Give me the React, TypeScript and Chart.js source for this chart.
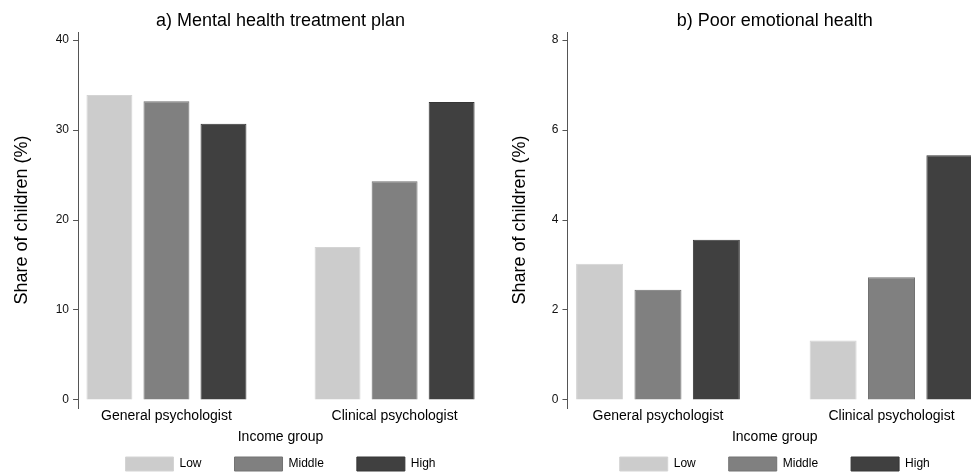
import React, { useEffect, useRef } from 'react';
import { Chart, registerables } from 'chart.js';

Chart.register(...registerables);

// ---- data ----
const categories = ['General psychologist', 'Clinical psychologist'];
const seriesNames = ['Low', 'Middle', 'High'];

const treatmentLow = [33.9, 17.0];
const treatmentMiddle = [33.2, 24.3];
const treatmentHigh = [30.7, 33.1];

const emotionalLow = [3.03, 1.32];
const emotionalMiddle = [2.45, 2.73];
const emotionalHigh = [3.56, 5.44];

const treatmentTicks = [0, 10, 20, 30, 40];
const emotionalTicks = [0, 2, 4, 6, 8];

const titleA = 'a) Mental health treatment plan';
const titleB = 'b) Poor emotional health';
const yTitle = 'Share of children (%)';
const xTitle = 'Income group';

// ---- styles ----
const fills = ['#cccccc', '#808080', '#404040'];
const borders = ['#d4d4d4', '#727272', '#363636'];
const FONT = "'Liberation Sans', Arial, Helvetica, sans-serif";

Chart.defaults.font.family = FONT;

const slots = seriesNames.length + 1;

function buildConfig(
  title: string,
  values: number[][],
  ticks: number[],
  yMin: number,
  yMax: number,
  padRight: number,
  yTitlePadBottom: number
): any {
  const datasets = seriesNames.map((name, s) => ({
    label: name,
    data: categories.map((_, g) => ({ x: g * slots + s, y: values[s][g] })),
    backgroundColor: fills[s],
    borderColor: borders[s],
    borderWidth: 1,
    grouped: false,
    barPercentage: 0.805,
    categoryPercentage: 1,
  }));
  const centers = categories.map((_, g) => g * slots + (seriesNames.length - 1) / 2);
  const xMin = -0.55;
  const xMax = (categories.length - 1) * slots + (seriesNames.length - 1) + 0.55;
  return {
    type: 'bar',
    data: { datasets },
    options: {
      responsive: false,
      animation: false,
      devicePixelRatio: 1,
      events: [],
      layout: { padding: { left: 0, right: padRight, top: 0, bottom: 0 } },
      plugins: {
        title: {
          display: true,
          text: title,
          fullSize: false,
          color: '#000',
          font: { size: 18, weight: 'normal', family: FONT, lineHeight: 1.2 },
          padding: { top: 10.5, bottom: 0 },
        },
        legend: {
          display: true,
          position: 'bottom',
          fullSize: false,
          labels: {
            boxWidth: 48,
            boxHeight: 14,
            padding: 33,
            color: '#000',
            font: { size: 12, family: FONT },
          },
        },
        tooltip: { enabled: false },
      },
      scales: {
        x: {
          type: 'linear',
          min: xMin,
          max: xMax,
          offset: false,
          grid: { display: false, drawTicks: false, tickLength: 0 },
          border: { display: false },
          afterBuildTicks: (scale: any) => {
            scale.ticks = centers.map((v) => ({ value: v }));
          },
          ticks: {
            autoSkip: false,
            maxRotation: 0,
            minRotation: 0,
            padding: 0,
            color: '#000',
            font: { size: 14, family: FONT },
            callback: (_v: any, i: number) => categories[i],
          },
          title: {
            display: true,
            text: xTitle,
            color: '#000',
            font: { size: 14, family: FONT },
            padding: { top: 4, bottom: -21.6 },
          },
        },
        y: {
          type: 'linear',
          min: yMin,
          max: yMax,
          grid: {
            display: true,
            drawOnChartArea: false,
            drawTicks: true,
            tickLength: 5,
            color: '#555555',
            lineWidth: 1,
          },
          border: { display: true, color: '#555555', width: 1 },
          afterBuildTicks: (scale: any) => {
            scale.ticks = ticks.map((v) => ({ value: v }));
          },
          ticks: {
            padding: 4,
            color: '#111',
            font: { size: 12, family: FONT },
          },
          title: {
            display: true,
            text: yTitle,
            color: '#000',
            font: { size: 18, family: FONT, lineHeight: 1.2 },
            padding: { top: 11, bottom: yTitlePadBottom },
          },
        },
      },
    },
  };
}

function Panel(props: { left: number; width: number; height: number; make: () => any }) {
  const ref = useRef<HTMLCanvasElement | null>(null);
  useEffect(() => {
    if (!ref.current) return;
    const chart = new Chart(ref.current, props.make());
    return () => chart.destroy();
  }, []);
  return (
    <canvas
      ref={ref}
      width={props.width}
      height={props.height}
      style={{ position: 'absolute', left: props.left, top: 0, width: props.width, height: props.height }}
    />
  );
}

export default function App() {
  const H = 481;
  return (
    <div
      style={{
        position: 'fixed',
        left: 0,
        top: 0,
        width: 971,
        height: 476,
        overflow: 'hidden',
        background: '#ffffff',
      }}
    >
      <Panel
        left={0}
        width={490}
        height={H}
        make={() =>
          buildConfig(
            titleA,
            [treatmentLow, treatmentMiddle, treatmentHigh],
            treatmentTicks,
            -0.89,
            40.88,
            7,
            19.1
          )
        }
      />
      <Panel
        left={498}
        width={490}
        height={H}
        make={() =>
          buildConfig(
            titleB,
            [emotionalLow, emotionalMiddle, emotionalHigh],
            emotionalTicks,
            -0.178,
            8.176,
            6,
            17.2
          )
        }
      />
    </div>
  );
}
